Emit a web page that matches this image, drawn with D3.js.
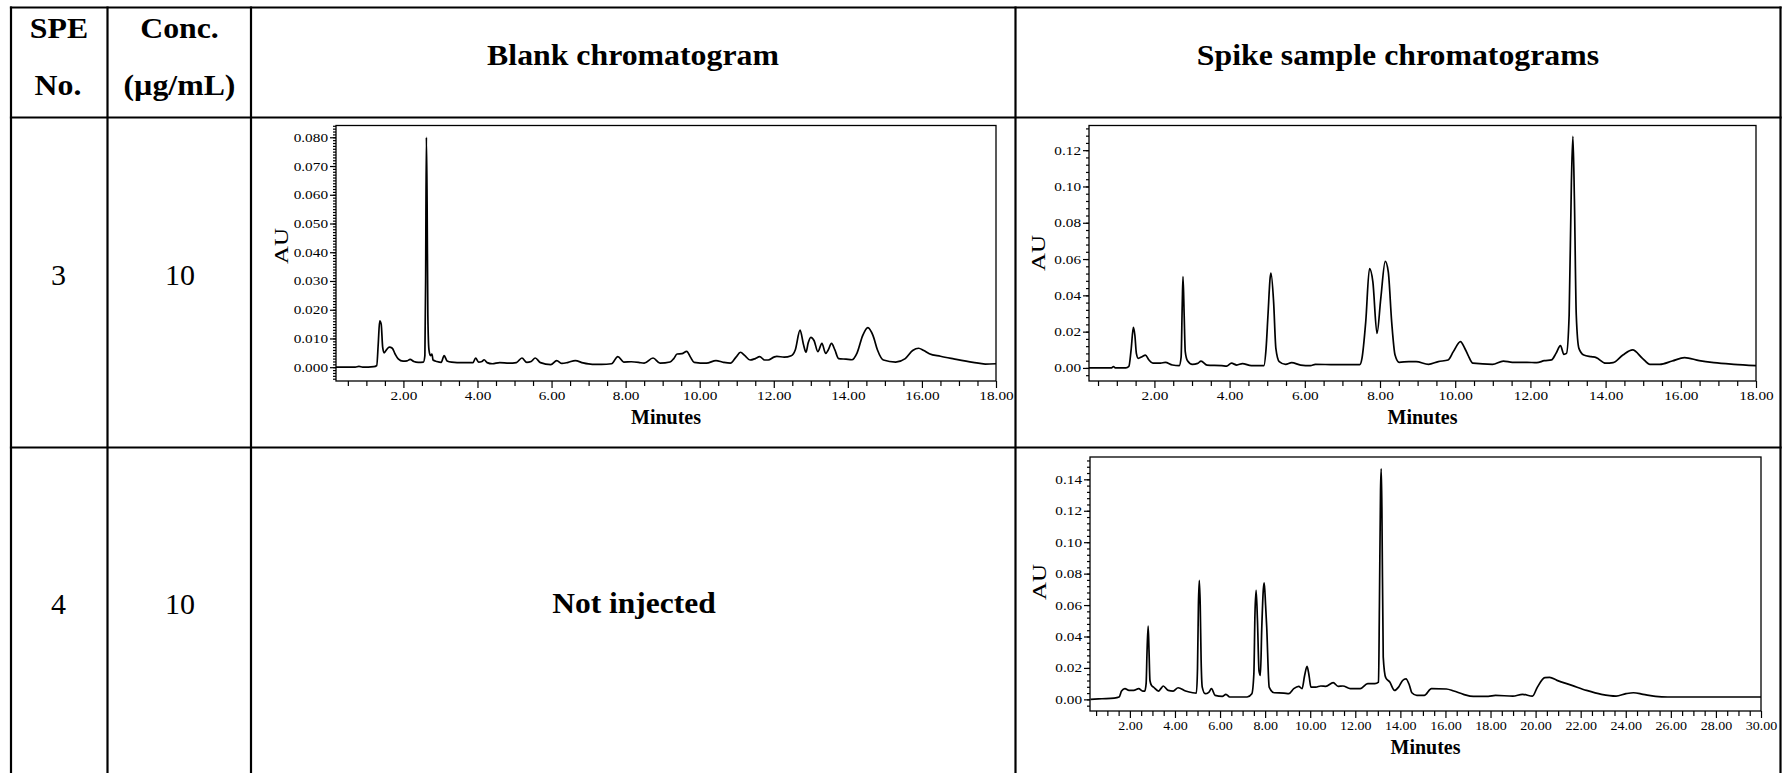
<!DOCTYPE html>
<html>
<head>
<meta charset="utf-8">
<script src="https://cdn.jsdelivr.net/npm/d3@7"></script>
<style>
  body { margin: 0; background: #fff; }
  svg { display: block; }
  text { font-family: "Liberation Serif", "Times New Roman", serif; fill: #000; }
</style>
</head>
<body>
<script>
// ---- table content ----
var speNo = ["3", "4"];
var concValues = ["10", "10"];
var headers = ["Blank chromatogram", "Spike sample chromatograms"];

// ---- chromatogram traces: [minutes, AU] ----
var blankTrace = [
  [0.18,0.0000],[0.70,0.0000],[0.80,0.0003],[0.90,0.0000],[1.20,0.0002],[1.28,0.0006],[1.32,0.0080],[1.36,0.0161],
  [1.40,0.0150],[1.44,0.0070],[1.48,0.0050],[1.55,0.0062],[1.62,0.0070],[1.70,0.0066],[1.78,0.0045],[1.86,0.0029],
  [1.99,0.0021],[2.10,0.0022],[2.18,0.0027],[2.28,0.0020],[2.40,0.0017],[2.54,0.0018],[2.58,0.0040],[2.60,0.0300],
  [2.62,0.0800],[2.64,0.0570],[2.66,0.0180],[2.69,0.0060],[2.73,0.0040],[2.77,0.0046],[2.80,0.0025],[2.90,0.0020],
  [3.02,0.0017],[3.10,0.0040],[3.18,0.0022],[3.30,0.0018],[3.60,0.0016],[3.88,0.0016],[3.95,0.0032],[4.03,0.0018],
  [4.12,0.0020],[4.18,0.0026],[4.26,0.0016],[4.40,0.0012],[4.60,0.0016],[4.85,0.0014],[5.05,0.0016],[5.20,0.0032],
  [5.33,0.0017],[5.45,0.0020],[5.56,0.0032],[5.70,0.0016],[5.98,0.0009],[6.14,0.0023],[6.28,0.0013],[6.45,0.0017],
  [6.64,0.0023],[6.85,0.0015],[7.10,0.0010],[7.35,0.0010],[7.62,0.0012],[7.79,0.0037],[7.95,0.0018],[8.15,0.0019],
  [8.35,0.0017],[8.50,0.0014],[8.74,0.0032],[8.93,0.0014],[9.20,0.0018],[9.30,0.0030],[9.39,0.0046],[9.52,0.0047],
  [9.65,0.0055],[9.75,0.0035],[9.85,0.0017],[10.18,0.0014],[10.44,0.0023],[10.64,0.0017],[10.83,0.0014],[10.98,0.0035],
  [11.10,0.0052],[11.22,0.0040],[11.36,0.0025],[11.50,0.0030],[11.62,0.0037],[11.75,0.0025],[11.85,0.0025],[12.00,0.0035],
  [12.08,0.0038],[12.28,0.0035],[12.47,0.0040],[12.58,0.0060],[12.71,0.0129],[12.80,0.0080],[12.87,0.0052],[12.93,0.0085],
  [13.00,0.0104],[13.09,0.0092],[13.19,0.0054],[13.30,0.0083],[13.40,0.0048],[13.47,0.0060],[13.56,0.0083],[13.65,0.0060],
  [13.75,0.0030],[13.95,0.0028],[14.11,0.0026],[14.25,0.0050],[14.40,0.0110],[14.54,0.0138],[14.68,0.0110],[14.80,0.0060],
  [14.96,0.0025],[15.29,0.0018],[15.55,0.0030],[15.75,0.0058],[15.91,0.0066],[16.05,0.0058],[16.20,0.0047],[16.50,0.0038],
  [16.86,0.0029],[17.38,0.0017],[17.71,0.0011],[18.00,0.0012]
];

var spike3Trace = [
  [0.26,0.0000],[0.85,0.0000],[0.91,0.0007],[0.97,0.0000],[1.24,0.0000],[1.32,0.0008],[1.38,0.0100],[1.44,0.0223],
  [1.48,0.0180],[1.52,0.0080],[1.57,0.0053],[1.67,0.0062],[1.76,0.0071],[1.85,0.0045],[1.96,0.0026],[2.16,0.0026],
  [2.29,0.0031],[2.48,0.0016],[2.66,0.0013],[2.71,0.0060],[2.74,0.0350],[2.76,0.0503],[2.79,0.0300],[2.82,0.0090],
  [2.88,0.0040],[3.01,0.0020],[3.15,0.0025],[3.24,0.0038],[3.40,0.0016],[3.79,0.0013],[3.92,0.0010],[4.05,0.0026],
  [4.19,0.0016],[4.34,0.0024],[4.58,0.0013],[4.91,0.0013],[4.97,0.0108],[5.02,0.0290],[5.08,0.0500],[5.10,0.0522],
  [5.17,0.0364],[5.23,0.0108],[5.32,0.0035],[5.49,0.0020],[5.65,0.0029],[5.89,0.0016],[6.15,0.0013],[6.28,0.0020],
  [6.80,0.0018],[7.46,0.0018],[7.52,0.0053],[7.62,0.0254],[7.72,0.0547],[7.81,0.0474],[7.92,0.0190],[8.02,0.0382],
  [8.14,0.0587],[8.22,0.0529],[8.31,0.0254],[8.40,0.0071],[8.51,0.0031],[8.77,0.0035],[8.96,0.0035],[9.29,0.0020],
  [9.55,0.0035],[9.81,0.0044],[9.95,0.0090],[10.14,0.0145],[10.25,0.0110],[10.34,0.0071],[10.47,0.0026],[10.99,0.0020],
  [11.28,0.0038],[11.52,0.0031],[11.91,0.0031],[12.17,0.0029],[12.37,0.0040],[12.56,0.0044],[12.68,0.0080],[12.80,0.0123],
  [12.89,0.0075],[12.96,0.0080],[13.03,0.0290],[13.09,0.1020],[13.13,0.1276],[13.17,0.0932],[13.22,0.0290],[13.29,0.0108],
  [13.42,0.0071],[13.62,0.0062],[13.75,0.0057],[14.00,0.0026],[14.20,0.0029],[14.46,0.0071],[14.72,0.0099],[14.98,0.0053],
  [15.18,0.0020],[15.44,0.0020],[15.77,0.0038],[16.10,0.0057],[16.49,0.0040],[16.88,0.0029],[17.41,0.0020],[18.00,0.0013]
];

var spike4Trace = [
  [0.25,0.0000],[0.76,0.0004],[1.30,0.0008],[1.52,0.0015],[1.63,0.0053],[1.78,0.0068],[1.96,0.0057],[2.17,0.0057],
  [2.39,0.0068],[2.57,0.0053],[2.66,0.0053],[2.72,0.0100],[2.76,0.0300],[2.81,0.0466],[2.85,0.0300],[2.89,0.0120],
  [2.96,0.0089],[3.05,0.0078],[3.27,0.0053],[3.38,0.0070],[3.48,0.0085],[3.70,0.0057],[3.92,0.0053],[4.14,0.0074],
  [4.47,0.0053],[4.79,0.0042],[4.95,0.0040],[5.00,0.0200],[5.04,0.0600],[5.08,0.0757],[5.12,0.0600],[5.16,0.0250],
  [5.21,0.0078],[5.34,0.0036],[5.50,0.0045],[5.62,0.0068],[5.78,0.0025],[6.10,0.0019],[6.26,0.0032],[6.43,0.0015],
  [7.20,0.0015],[7.41,0.0036],[7.50,0.0163],[7.55,0.0550],[7.60,0.0693],[7.66,0.0500],[7.73,0.0180],[7.79,0.0153],
  [7.85,0.0450],[7.92,0.0700],[7.96,0.0742],[8.02,0.0600],[8.07,0.0460],[8.18,0.0078],[8.40,0.0042],[8.83,0.0040],
  [9.05,0.0036],[9.27,0.0068],[9.49,0.0083],[9.64,0.0068],[9.75,0.0150],[9.86,0.0210],[9.95,0.0150],[10.03,0.0078],
  [10.25,0.0078],[10.47,0.0085],[10.69,0.0083],[11.02,0.0106],[11.24,0.0083],[11.45,0.0085],[11.78,0.0068],[12.22,0.0068],
  [12.55,0.0100],[12.87,0.0100],[13.03,0.0110],[13.07,0.0587],[13.12,0.1330],[13.15,0.1467],[13.18,0.1220],[13.24,0.0269],
  [13.35,0.0138],[13.53,0.0110],[13.74,0.0057],[13.92,0.0078],[14.10,0.0120],[14.25,0.0131],[14.40,0.0090],[14.51,0.0042],
  [14.73,0.0025],[15.06,0.0025],[15.38,0.0068],[16.04,0.0066],[16.37,0.0053],[16.80,0.0032],[17.24,0.0019],[17.90,0.0019],
  [18.22,0.0025],[18.99,0.0021],[19.42,0.0032],[19.86,0.0021],[20.08,0.0078],[20.41,0.0138],[20.62,0.0140],[20.95,0.0121],
  [21.61,0.0089],[22.26,0.0057],[22.92,0.0032],[23.57,0.0021],[24.01,0.0036],[24.34,0.0042],[24.77,0.0032],[25.32,0.0019],
  [25.86,0.0015],[30.00,0.0015]
];

// ---- tick values ----
var blankYTicks = [0, 0.01, 0.02, 0.03, 0.04, 0.05, 0.06, 0.07, 0.08];
var spike3YTicks = [0, 0.02, 0.04, 0.06, 0.08, 0.10, 0.12];
var spike4YTicks = [0, 0.02, 0.04, 0.06, 0.08, 0.10, 0.12, 0.14];
var xTicks18 = [2, 4, 6, 8, 10, 12, 14, 16, 18];
var xTicks30 = [2, 4, 6, 8, 10, 12, 14, 16, 18, 20, 22, 24, 26, 28, 30];

var svgWidth = 1787;
var svgHeight = 773;

var svg = d3.select("body")
  .append("svg")
  .attr("width", svgWidth)
  .attr("height", svgHeight);

// stretch text horizontally like the (widened) original picture
function stretch(sel, k) {
  sel.each(function () {
    var w = this.getComputedTextLength();
    d3.select(this).attr("textLength", w * k).attr("lengthAdjust", "spacingAndGlyphs");
  });
}

// ---- table grid ----
var colX = [11, 107.5, 251, 1015.5, 1780.5];
var rowY = [7.5, 117.5, 447.5];
var grid = svg.append("g").attr("stroke", "#000").attr("stroke-width", 2.2);

colX.forEach(function (x) {
  grid.append("line").attr("x1", x).attr("x2", x).attr("y1", 6.4).attr("y2", svgHeight);
});
rowY.forEach(function (y) {
  grid.append("line").attr("x1", colX[0] - 1.1).attr("x2", colX[4] + 1.1).attr("y1", y).attr("y2", y);
});

// ---- table texts ----
function cellText(txt, x, y, size, bold, k) {
  var t = svg.append("text")
    .attr("x", x)
    .attr("y", y)
    .attr("text-anchor", "middle")
    .style("font-size", size + "px")
    .style("font-weight", bold ? "bold" : "normal")
    .text(txt);
  if (k) stretch(t, k);
  return t;
}

cellText("SPE", 59, 37.5, 30, true, 1.06);
cellText("No.", 58, 95, 30, true, 1.06);
cellText("Conc.", 179.5, 37.5, 30, true, 1.06);
cellText("(\u00b5g/mL)", 179.5, 95, 30, true, 1.06);
cellText(headers[0], 633, 65, 30, true, 1.06);
cellText(headers[1], 1398, 65, 30, true, 1.06);

cellText(speNo[0], 58.5, 285, 30, false);
cellText(concValues[0], 180, 285, 30, false);
cellText(speNo[1], 58.5, 614, 30, false);
cellText(concValues[1], 180, 614, 30, false);
cellText("Not injected", 634, 613, 30, true, 1.05);

// ---- chromatogram panel ----
function drawChroma(o) {
  var g = svg.append("g");

  var x = d3.scaleLinear().domain(o.xDomain).range([o.left, o.right]);
  var y = d3.scaleLinear().domain(o.yDomain).range([o.bottom, o.top]);

  // y minor ticks
  var yMinor = d3.range(Math.ceil(o.yDomain[0] / o.yMinorStep), Math.floor(o.yDomain[1] / o.yMinorStep) + 1)
    .map(function (i) { return i * o.yMinorStep; });
  g.append("g")
    .attr("transform", "translate(" + o.left + ",0)")
    .call(d3.axisLeft(y).tickValues(yMinor).tickSize(3).tickFormat(""))
    .call(function (a) { a.select(".domain").remove(); });

  // y major ticks
  var yAx = g.append("g")
    .attr("transform", "translate(" + o.left + ",0)")
    .call(d3.axisLeft(y).tickValues(o.yTicks).tickSize(6).tickPadding(2).tickFormat(d3.format(o.yFormat)));
  yAx.select(".domain").remove();
  yAx.selectAll("text").style("font-size", "12.5px").style("font-family", "Liberation Serif, serif");
  stretch(yAx.selectAll("text"), 1.22);

  // x minor ticks
  var xMinor = d3.range(1, Math.floor(o.xDomain[1] * 2) + 1).map(function (i) { return i / 2; })
    .filter(function (v) { return v > o.xDomain[0] && o.xTicks.indexOf(v) < 0; });
  g.append("g")
    .attr("transform", "translate(0," + o.bottom + ")")
    .call(d3.axisBottom(x).tickValues(xMinor).tickSize(5).tickFormat(""))
    .call(function (a) { a.select(".domain").remove(); });

  // x major ticks
  var xAx = g.append("g")
    .attr("transform", "translate(0," + o.bottom + ")")
    .call(d3.axisBottom(x).tickValues(o.xTicks).tickSize(7).tickPadding(3).tickFormat(d3.format(".2f")));
  xAx.select(".domain").remove();
  xAx.selectAll("text").style("font-size", "12.5px").style("font-family", "Liberation Serif, serif");
  stretch(xAx.selectAll("text"), o.xStretch);

  g.selectAll(".tick line").attr("stroke", "#000").attr("stroke-width", 1.2);

  // frame
  g.append("rect")
    .attr("x", o.left)
    .attr("y", o.top)
    .attr("width", o.right - o.left)
    .attr("height", o.bottom - o.top)
    .attr("fill", "none")
    .attr("stroke", "#000")
    .attr("stroke-width", 1.3);

  // trace
  var line = d3.line()
    .x(function (d) { return x(d[0]); })
    .y(function (d) { return y(d[1]); })
    .curve(d3.curveMonotoneX);

  g.append("path")
    .datum(o.data)
    .attr("d", line)
    .attr("fill", "none")
    .attr("stroke", "#000")
    .attr("stroke-width", 1.7)
    .attr("stroke-linejoin", "round");

  // axis titles
  var au = g.append("text")
    .attr("transform", "translate(" + o.auX + "," + o.auY + ") rotate(-90)")
    .attr("text-anchor", "middle")
    .attr("dy", "0.35em")
    .style("font-size", "18px")
    .text("AU");
  au.attr("textLength", 36).attr("lengthAdjust", "spacingAndGlyphs");

  g.append("text")
    .attr("x", (o.left + o.right) / 2)
    .attr("y", o.bottom + 43)
    .attr("text-anchor", "middle")
    .style("font-size", "20px")
    .style("font-weight", "bold")
    .text("Minutes");
}

drawChroma({
  data: blankTrace,
  left: 336, right: 996, top: 125.5, bottom: 381,
  xDomain: [0.18, 18], yDomain: [-0.0048, 0.0841],
  yTicks: blankYTicks, yFormat: ".3f", yMinorStep: 0.001,
  xTicks: xTicks18, xStretch: 1.22,
  auX: 282, auY: 246
});

drawChroma({
  data: spike3Trace,
  left: 1089, right: 1756, top: 125.5, bottom: 381,
  xDomain: [0.26, 18], yDomain: [-0.0072, 0.1336],
  yTicks: spike3YTicks, yFormat: ".2f", yMinorStep: 0.004,
  xTicks: xTicks18, xStretch: 1.22,
  auX: 1039, auY: 253
});

drawChroma({
  data: spike4Trace,
  left: 1090, right: 1761, top: 457, bottom: 711,
  xDomain: [0.23, 30], yDomain: [-0.0074, 0.1542],
  yTicks: spike4YTicks, yFormat: ".2f", yMinorStep: 0.004,
  xTicks: xTicks30, xStretch: 1.12,
  auX: 1040, auY: 582
});
</script>
</body>
</html>
